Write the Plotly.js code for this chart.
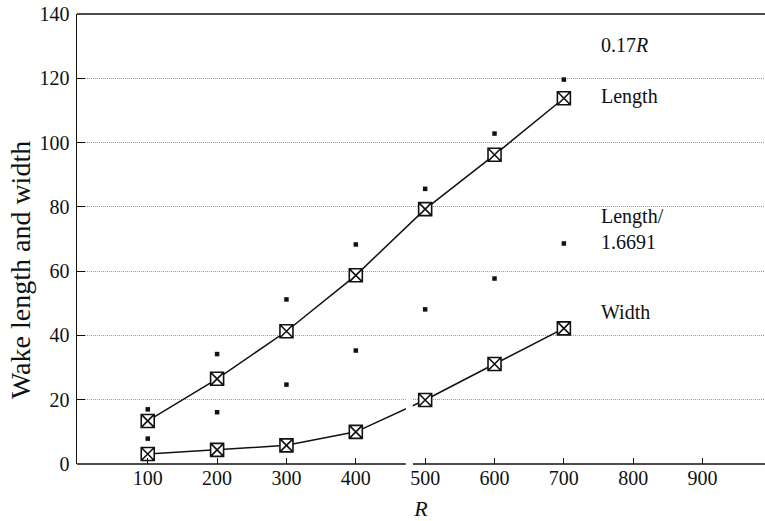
<!DOCTYPE html>
<html>
<head>
<meta charset="utf-8">
<script src="https://cdn.plot.ly/plotly-3.0.1.min.js"></script>
<style>
  html, body { margin: 0; padding: 0; background: #fff; }
  #chart { width: 765px; height: 521px; }
</style>
</head>
<body>
<div id="chart"></div>
<script>
// Reynolds numbers
const R = [100, 200, 300, 400, 500, 600, 700];

// Measured wake length and width
const wakeLength = [13.4, 26.5, 41.3, 58.7, 79.3, 96.2, 113.8];
const wakeWidth = [3.1, 4.4, 5.8, 10.0, 19.9, 31.1, 42.2];

// Comparison points: 0.17R and Length/1.6691
const pointsLinear = [17.0, 34.2, 51.2, 68.3, 85.6, 102.8, 119.6];
const pointsScaled = [7.9, 16.1, 24.7, 35.3, 48.1, 57.7, 68.6];

// Axis ticks
const xTicks = [100, 200, 300, 400, 500, 600, 700, 800, 900];
const yTicks = [0, 20, 40, 60, 80, 100, 120, 140];

const FONT = '"Liberation Serif", "DejaVu Serif", serif';
const INK = '#111';

const boxMarker = {
  symbol: 'square-x',
  size: 13,
  color: '#fff',
  line: { color: INK, width: 1.6 }
};
const dotMarker = { symbol: 'square', size: 4.5, color: INK, line: { width: 0 } };

const traces = [
  { x: R, y: pointsLinear, mode: 'markers', marker: dotMarker, name: '0.17R', cliponaxis: false },
  { x: R, y: pointsScaled, mode: 'markers', marker: dotMarker, name: 'Length/1.6691', cliponaxis: false },
  { x: R, y: wakeLength, mode: 'lines+markers', line: { color: INK, width: 1.5 }, marker: boxMarker, name: 'Length', cliponaxis: false },
  { x: R, y: wakeWidth, mode: 'lines+markers', line: { color: INK, width: 1.5 }, marker: boxMarker, name: 'Width', cliponaxis: false }
];

// Small break in the baseline between 400 and 500
const gapL = 0.478, gapR = 0.488;

const labelFont = { family: FONT, size: 20, color: INK };

const layout = {
  width: 765,
  height: 521,
  margin: { l: 77, r: 0, t: 14, b: 57 },
  paper_bgcolor: '#fff',
  plot_bgcolor: '#fff',
  showlegend: false,
  font: { family: FONT, color: INK },
  xaxis: {
    range: [-2, 990],
    tickvals: xTicks,
    ticks: 'inside',
    ticklen: 6,
    tickwidth: 1.2,
    tickcolor: INK,
    showgrid: false,
    zeroline: false,
    showline: false,
    tickfont: { family: FONT, size: 20, color: INK },
    title: { text: '<i>R</i>', font: { family: FONT, size: 22, color: INK }, standoff: 14 }
  },
  yaxis: {
    range: [0, 140],
    tickvals: yTicks,
    ticks: 'inside',
    ticklen: 8,
    tickwidth: 1.2,
    tickcolor: INK,
    showgrid: true,
    gridcolor: '#999',
    gridwidth: 1,
    griddash: '1px,1px',
    zeroline: false,
    showline: true,
    linecolor: INK,
    linewidth: 1.5,
    ticklabelstandoff: 2,
    tickfont: { family: FONT, size: 20, color: INK }
  },
  shapes: [
    // frame top
    { type: 'line', xref: 'paper', yref: 'paper', x0: 0, x1: 1, y0: 1, y1: 1, line: { color: INK, width: 1.5 }, layer: 'above' },
    // baseline, in two pieces
    { type: 'line', xref: 'paper', yref: 'paper', x0: 0, x1: gapL, y0: 0, y1: 0, line: { color: INK, width: 1.5 }, layer: 'above' },
    { type: 'line', xref: 'paper', yref: 'paper', x0: gapR, x1: 1, y0: 0, y1: 0, line: { color: INK, width: 1.5 }, layer: 'above' },
    // white strip through the lower part of the break
    { type: 'rect', xref: 'paper', yref: 'paper', x0: gapL, x1: gapR, y0: -0.01, y1: 0.16, fillcolor: '#fff', line: { width: 0 }, layer: 'above' }
  ],
  annotations: [
    // vertical axis label, sitting a little below the plot centre
    { x: -0.083, y: 60.3, xref: 'paper', yref: 'y', xanchor: 'center', yanchor: 'middle', textangle: -90, showarrow: false,
      text: 'Wake length and width', font: { family: FONT, size: 28, color: INK } },
    { x: 750, y: 130.5, xref: 'x', yref: 'y', xanchor: 'left', yanchor: 'middle', showarrow: false, text: '0.17<i>R</i>', font: labelFont },
    { x: 750, y: 114.3, xref: 'x', yref: 'y', xanchor: 'left', yanchor: 'middle', showarrow: false, text: 'Length', font: labelFont },
    { x: 750, y: 73, xref: 'x', yref: 'y', xanchor: 'left', yanchor: 'middle', align: 'left', showarrow: false, text: 'Length/<br>1.6691', font: labelFont },
    { x: 750, y: 47.2, xref: 'x', yref: 'y', xanchor: 'left', yanchor: 'middle', showarrow: false, text: 'Width', font: labelFont }
  ]
};

Plotly.newPlot('chart', traces, layout, { staticPlot: true, displayModeBar: false });
</script>
</body>
</html>
